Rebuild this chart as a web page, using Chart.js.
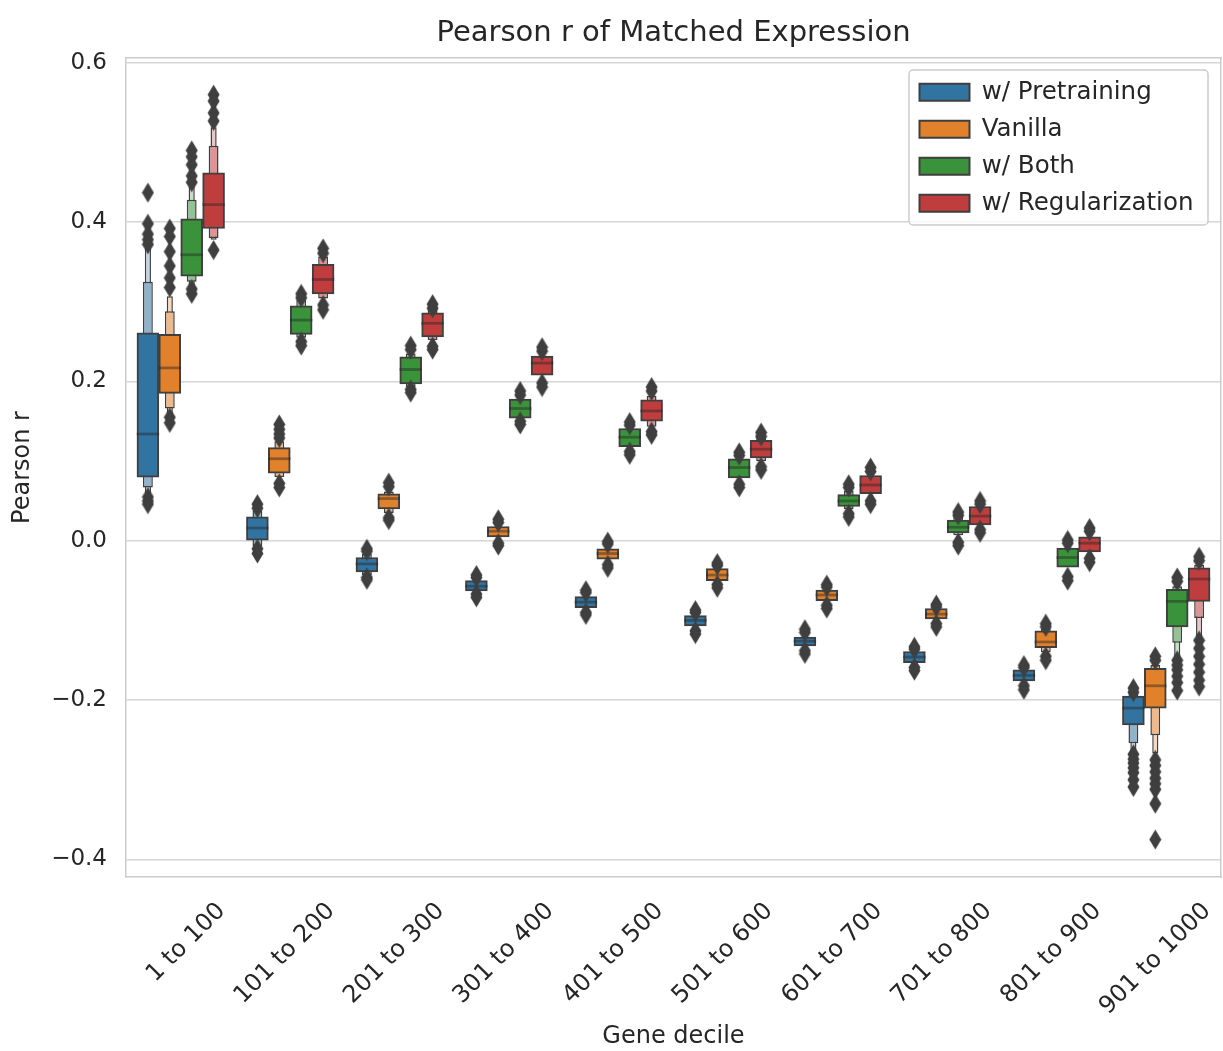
<!DOCTYPE html>
<html>
<head>
<meta charset="utf-8">
<script src="https://cdn.jsdelivr.net/npm/chart.js@4.4.1/dist/chart.umd.min.js"></script>
<style>
  html, body { margin: 0; padding: 0; background: #fff; }
  #wrap { width: 1223px; height: 1051px; position: relative; }
</style>
</head>
<body>
<div id="wrap"><canvas id="lvChart"></canvas></div>
<script>
const categories = ['1 to 100', '101 to 200', '201 to 300', '301 to 400', '401 to 500',
  '501 to 600', '601 to 700', '701 to 800', '801 to 900', '901 to 1000'];
const seriesNames = ['w/ Pretraining', 'Vanilla', 'w/ Both', 'w/ Regularization'];
const yTicks = [-0.4, -0.2, 0.0, 0.2, 0.4, 0.6];

// [q1, median, q3] per decile
const pretrainBox = [[0.080, 0.134, 0.261], [0.000, 0.016, 0.030], [-0.039, -0.029, -0.021], [-0.063, -0.057, -0.050],
  [-0.084, -0.077, -0.070], [-0.107, -0.100, -0.094], [-0.132, -0.126, -0.121], [-0.153, -0.146, -0.139],
  [-0.176, -0.169, -0.162], [-0.231, -0.210, -0.195]];
const vanillaBox = [[0.185, 0.217, 0.259], [0.085, 0.103, 0.117], [0.040, 0.053, 0.059], [0.005, 0.012, 0.018],
  [-0.023, -0.016, -0.010], [-0.050, -0.043, -0.035], [-0.075, -0.068, -0.062], [-0.098, -0.092, -0.085],
  [-0.134, -0.127, -0.113], [-0.210, -0.182, -0.160]];
const bothBox = [[0.332, 0.359, 0.404], [0.259, 0.277, 0.295], [0.197, 0.215, 0.231], [0.154, 0.166, 0.178],
  [0.118, 0.130, 0.141], [0.079, 0.092, 0.103], [0.043, 0.050, 0.058], [0.010, 0.017, 0.026],
  [-0.033, -0.021, -0.009], [-0.108, -0.076, -0.061]];
const regBox = [[0.392, 0.422, 0.462], [0.310, 0.328, 0.347], [0.256, 0.273, 0.286], [0.208, 0.223, 0.232],
  [0.150, 0.163, 0.177], [0.104, 0.115, 0.126], [0.059, 0.070, 0.082], [0.020, 0.031, 0.043],
  [-0.014, -0.003, 0.005], [-0.076, -0.048, -0.034]];

// second letter-value box [low, high]
const pretrainLV2 = [[0.067, 0.325], [-0.007, 0.038], [-0.043, -0.016], null, null, null, null, null, null, [-0.254, -0.190]];
const vanillaLV2 = [[0.166, 0.288], [0.080, 0.125], [0.035, 0.062], null, null, null, null, null, [-0.140, -0.110], [-0.244, -0.156]];
const bothLV2 = [[0.325, 0.428], [0.255, 0.303], [0.193, 0.235], null, null, null, [0.040, 0.063], [0.007, 0.031], null, [-0.128, -0.057]];
const regLV2 = [[0.380, 0.496], [0.304, 0.357], [0.252, 0.291], null, [0.143, 0.182], [0.100, 0.130], null, null, null, [-0.097, -0.030]];

// third letter-value box [low, high]
const pretrainLV3 = [[0.058, 0.372], null, null, null, null, null, null, null, null, [-0.266, -0.186]];
const vanillaLV3 = [[0.158, 0.307], null, null, null, null, null, null, null, null, [-0.267, -0.152]];
const bothLV3 = [[0.318, 0.445], null, null, null, null, null, null, null, null, [-0.147, -0.054]];
const regLV3 = [[0.378, 0.519], null, null, null, null, null, null, null, null, [-0.120, -0.027]];

// outliers per decile
const pretrainOut = [[0.437, 0.398, 0.385, 0.378, 0.372, 0.055, 0.050, 0.046], [0.046, 0.041, -0.010, -0.016],
  [-0.010, -0.013, -0.046, -0.049], [-0.043, -0.046, -0.067, -0.071], [-0.062, -0.065, -0.090, -0.093],
  [-0.087, -0.090, -0.113, -0.117], [-0.111, -0.115, -0.138, -0.142], [-0.133, -0.136, -0.159, -0.163],
  [-0.156, -0.159, -0.182, -0.187], [-0.185, -0.190, -0.268, -0.274, -0.279, -0.285, -0.291, -0.300, -0.309]];
const vanillaOut = [[0.392, 0.382, 0.363, 0.345, 0.330, 0.318, 0.155, 0.148], [0.146, 0.140, 0.134, 0.129, 0.072, 0.067],
  [0.073, 0.068, 0.029, 0.026], [0.027, 0.023, -0.003, -0.006], [-0.001, -0.004, -0.030, -0.034],
  [-0.028, -0.031, -0.055, -0.059], [-0.055, -0.058, -0.081, -0.085], [-0.080, -0.083, -0.104, -0.108],
  [-0.104, -0.108, -0.145, -0.150], [-0.145, -0.150, -0.275, -0.282, -0.290, -0.298, -0.305, -0.312, -0.330, -0.375]];
const bothOut = [[0.490, 0.482, 0.472, 0.458, 0.450, 0.316, 0.310], [0.310, 0.305, 0.250, 0.245],
  [0.245, 0.240, 0.190, 0.186], [0.188, 0.183, 0.150, 0.146], [0.149, 0.145, 0.112, 0.108],
  [0.111, 0.107, 0.071, 0.067], [0.071, 0.067, 0.034, 0.030], [0.036, 0.032, -0.002, -0.006],
  [0.001, -0.003, -0.045, -0.050], [-0.046, -0.051, -0.150, -0.156, -0.162, -0.170, -0.178, -0.188]];
const regOut = [[0.560, 0.552, 0.537, 0.527, 0.365], [0.367, 0.361, 0.296, 0.290],
  [0.297, 0.292, 0.244, 0.240], [0.243, 0.238, 0.198, 0.193], [0.193, 0.188, 0.137, 0.133],
  [0.136, 0.131, 0.093, 0.089], [0.092, 0.087, 0.050, 0.046], [0.050, 0.046, 0.014, 0.010],
  [0.016, 0.012, -0.022, -0.027], [-0.020, -0.025, -0.125, -0.135, -0.145, -0.155, -0.165, -0.175, -0.183]];

const series = [
  { box: pretrainBox, lv2: pretrainLV2, lv3: pretrainLV3, out: pretrainOut },
  { box: vanillaBox, lv2: vanillaLV2, lv3: vanillaLV3, out: vanillaOut },
  { box: bothBox, lv2: bothLV2, lv3: bothLV3, out: bothOut },
  { box: regBox, lv2: regLV2, lv3: regLV3, out: regOut }
];

const colors = ['#3274a1', '#e1812c', '#3a923a', '#c03d3e'];
const lv2Colors = ['#8eb3cb', '#eeba8b', '#93c393', '#dc9495'];
const lv3Colors = ['#c2d5e1', '#f6d8bc', '#c4dfc4', '#ecc5c6'];
const edge = '#3f3f3f';
const textColor = '#262626';
const medianHalf = 0.0013;
const dodge = 0.2;

Chart.defaults.font.family = '"DejaVu Sans", sans-serif';
Chart.defaults.color = textColor;

// x position of hue h inside decile g
const xPos = (g, h) => g + (h - 1.5) * dodge;

// thin diamond marker like matplotlib 'd'
function makeDiamond() {
  const c = document.createElement('canvas');
  c.width = 13; c.height = 21;
  const g = c.getContext('2d');
  g.fillStyle = edge;
  g.beginPath();
  g.moveTo(6.5, 0.5); g.lineTo(12.5, 10.5); g.lineTo(6.5, 20.5); g.lineTo(0.5, 10.5);
  g.closePath();
  g.fill();
  return c;
}
const diamond = makeDiamond();

function ranges(list, h) {
  return list.map((r, g) => r && { x: xPos(g, h), y: r }).filter(Boolean);
}

const datasets = [];
series.forEach((s, h) => datasets.push({
  type: 'scatter',
  label: seriesNames[h] + ' outliers',
  data: s.out.flatMap((vals, g) => vals.map(v => ({ x: xPos(g, h), y: v }))),
  pointStyle: diamond,
  pointRadius: 7,
  pointHoverRadius: 7
}));
series.forEach((s, h) => datasets.push({
  label: seriesNames[h] + ' median',
  data: ranges(s.box.map(b => [b[1] - medianHalf, b[1] + medianHalf]), h),
  backgroundColor: 'rgba(38,38,38,0.45)',
  borderWidth: 0,
  barPercentage: 1
}));
series.forEach((s, h) => datasets.push({
  label: seriesNames[h],
  data: ranges(s.box.map(b => [b[0], b[2]]), h),
  backgroundColor: colors[h],
  borderColor: edge,
  borderWidth: 2,
  borderSkipped: false,
  barPercentage: 1
}));
series.forEach((s, h) => datasets.push({
  label: seriesNames[h] + ' lv2',
  data: ranges(s.lv2, h),
  backgroundColor: lv2Colors[h],
  borderColor: edge,
  borderWidth: 1.5,
  borderSkipped: false,
  barPercentage: 0.45
}));
series.forEach((s, h) => datasets.push({
  label: seriesNames[h] + ' lv3',
  data: ranges(s.lv3, h),
  backgroundColor: lv3Colors[h],
  borderColor: edge,
  borderWidth: 1.5,
  borderSkipped: false,
  barPercentage: 0.28
}));

// move the legend to the top right of the plot and give it a frame
const legendFrame = {
  id: 'legendFrame',
  afterLayout(chart) {
    const lg = chart.legend;
    const area = chart.chartArea;
    lg.left = area.right - 314;
    lg.right = area.right;
    lg.top = area.top + 9.5;
    lg.bottom = area.bottom;
    if (!lg._framed) {
      const draw = lg.draw.bind(lg);
      lg.draw = function (a) {
        const ctx = chart.ctx;
        const ca = chart.chartArea;
        const x = lg.left + 2;
        const y = lg.top + 2.5;
        ctx.save();
        ctx.fillStyle = 'rgba(255,255,255,0.8)';
        ctx.strokeStyle = '#cccccc';
        ctx.lineWidth = 1.5;
        ctx.beginPath();
        ctx.roundRect(x, y, ca.right - 13 - x, 155, 4);
        ctx.fill();
        ctx.stroke();
        ctx.restore();
        draw(a);
      };
      lg._framed = true;
    }
  }
};

new Chart(document.getElementById('lvChart'), {
  type: 'bar',
  data: { datasets },
  plugins: [legendFrame],
  options: {
    responsive: true,
    maintainAspectRatio: false,
    animation: false,
    events: [],
    layout: { autoPadding: false, padding: { left: 0, right: 2, top: 0, bottom: 0 } },
    datasets: { bar: { categoryPercentage: 1, grouped: false } },
    scales: {
      x: {
        type: 'linear',
        min: -0.5,
        max: 9.5,
        offset: false,
        grid: { display: false, drawTicks: false },
        border: { display: true, color: '#cccccc', width: 1.5 },
        afterBuildTicks: axis => { axis.ticks = categories.map((c, i) => ({ value: i })); },
        ticks: {
          font: { size: 24 },
          color: textColor,
          maxRotation: 45,
          minRotation: 45,
          autoSkip: false,
          labelOffset: 41,
          padding: 20,
          callback: v => categories[v]
        },
        title: { display: true, text: 'Gene decile', font: { size: 24 }, color: textColor, padding: { top: 0, bottom: 0 } },
        afterFit: axis => { axis.height = 174; axis.paddingLeft = 0; axis.paddingRight = 0; }
      },
      x2: {
        type: 'linear',
        position: 'top',
        min: -0.5,
        max: 9.5,
        offset: false,
        grid: { display: false, drawTicks: false },
        ticks: { display: false },
        border: { display: true, color: '#cccccc', width: 1.5 },
        afterFit: axis => { axis.height = 0; axis.paddingLeft = 0; axis.paddingRight = 0; }
      },
      y: {
        type: 'linear',
        min: -0.422,
        max: 0.606,
        stacked: false,
        grid: { color: '#d6d6d6', lineWidth: 1.5, drawTicks: false },
        border: { display: true, color: '#cccccc', width: 1.5 },
        afterBuildTicks: axis => { axis.ticks = yTicks.map(v => ({ value: v })); },
        ticks: {
          font: { size: 23 },
          color: textColor,
          padding: 19,
          callback: v => v.toFixed(1).replace('-', '\u2212')
        },
        title: { display: true, text: 'Pearson r', font: { size: 24 }, color: textColor, padding: { top: 8, bottom: 0 } },
        afterFit: axis => { axis.width = 126; }
      },
      y2: {
        type: 'linear',
        position: 'right',
        grid: { display: false, drawTicks: false },
        ticks: { display: false },
        border: { display: true, color: '#cccccc', width: 1.5 },
        afterFit: axis => { axis.width = 0; }
      }
    },
    plugins: {
      title: {
        display: true,
        text: 'Pearson r of Matched Expression',
        fullSize: false,
        font: { size: 29, weight: 'normal' },
        color: textColor,
        padding: { top: 15.6, bottom: 7.6 }
      },
      legend: {
        position: 'chartArea',
        align: 'start',
        labels: {
          filter: item => item.datasetIndex >= 8 && item.datasetIndex < 12,
          boxWidth: 50,
          boxHeight: 17,
          padding: 12.5,
          font: { size: 24.5 },
          color: textColor
        }
      },
      tooltip: { enabled: false }
    }
  }
});
</script>
</body>
</html>
